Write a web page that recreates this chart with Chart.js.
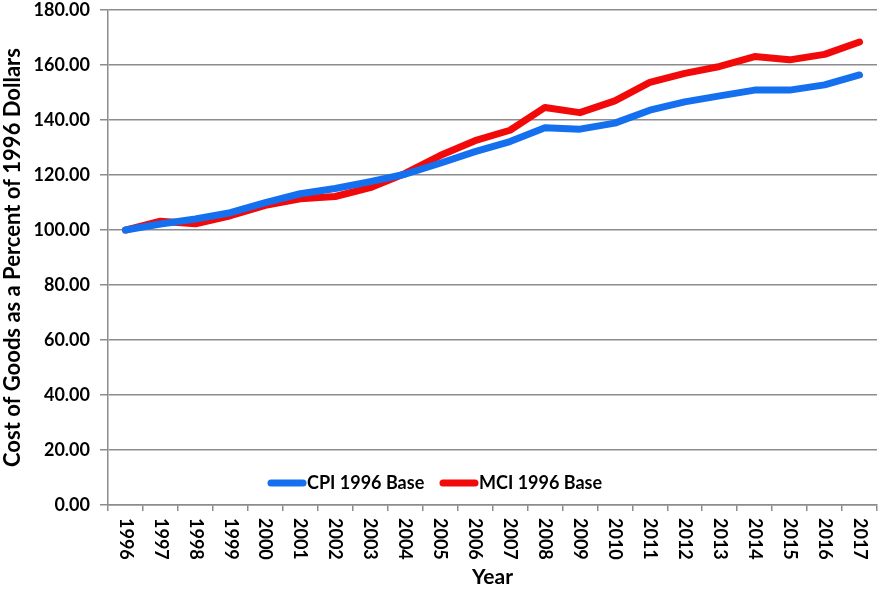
<!DOCTYPE html>
<html>
<head>
<meta charset="utf-8">
<script src="https://cdn.jsdelivr.net/npm/chart.js@4.4.1/dist/chart.umd.min.js"></script>
<style>
html,body{margin:0;padding:0;background:#fff;}
#wrap{width:882px;height:590px;position:relative;}
</style>
</head>
<body>
<div id="wrap"><canvas id="c" width="882" height="590"></canvas></div>
<script>
const years = ["1996","1997","1998","1999","2000","2001","2002","2003","2004","2005","2006","2007","2008","2009","2010","2011","2012","2013","2014","2015","2016","2017"];
const cpiValues = [100.0,102.2,104.0,106.3,110.0,113.2,115.1,117.6,120.3,124.3,128.5,132.2,137.2,136.7,138.9,143.6,146.6,148.8,150.9,150.9,152.8,156.4];
const mciValues = [100.0,103.2,102.3,105.2,109.0,111.4,112.2,115.4,120.6,127.1,132.5,136.3,144.6,142.7,147.0,153.7,157.0,159.5,163.1,161.9,163.9,168.4];
const yTicks = [0,20,40,60,80,100,120,140,160,180];

const FONT = "Lato, 'Open Sans', sans-serif";
const BLUE = "#1570f0";
const RED = "#f20a0a";
const GRID = "#8c8c8c";

const xLabelsPlugin = {
  id: 'xLabels',
  afterDraw(chart) {
    const ctx = chart.ctx;
    const xs = chart.scales.x;
    ctx.save();
    ctx.fillStyle = '#000';
    ctx.font = "bold 18px " + FONT;
    ctx.textAlign = 'left';
    ctx.textBaseline = 'middle';
    years.forEach((lab, i) => {
      const x = xs.getPixelForValue(i);
      ctx.save();
      ctx.translate(x, xs.top + 13);
      ctx.rotate(Math.PI / 2);
      ctx.fillText(lab, 0, 0);
      ctx.restore();
    });
    ctx.restore();
  }
};

const legendPlugin = {
  id: 'inLegend',
  afterDatasetsDraw(chart) {
    const ctx = chart.ctx;
    const items = chart.data.datasets;
    const starts = [268, 440];
    const y = 483;
    ctx.save();
    ctx.font = "bold 18px " + FONT;
    ctx.textBaseline = 'middle';
    ctx.textAlign = 'left';
    items.forEach((ds, i) => {
      const x0 = starts[i];
      ctx.strokeStyle = ds.borderColor;
      ctx.lineWidth = 7;
      ctx.lineCap = 'round';
      ctx.beginPath();
      ctx.moveTo(x0 + 3, y);
      ctx.lineTo(x0 + 35, y);
      ctx.stroke();
      ctx.fillStyle = '#000';
      ctx.fillText(ds.label, x0 + 39, y);
    });
    ctx.restore();
  }
};

new Chart(document.getElementById('c'), {
  type: 'line',
  data: {
    labels: years,
    datasets: [
      { label: 'CPI 1996 Base', data: cpiValues, borderColor: BLUE, backgroundColor: BLUE, borderWidth: 7, pointRadius: 0, tension: 0, borderCapStyle: 'round', borderJoinStyle: 'round' },
      { label: 'MCI 1996 Base', data: mciValues, borderColor: RED, backgroundColor: RED, borderWidth: 7, pointRadius: 0, tension: 0, borderCapStyle: 'round', borderJoinStyle: 'round' }
    ]
  },
  options: {
    responsive: false,
    animation: false,
    devicePixelRatio: 1,
    layout: { padding: { left: 0, right: 5, top: 0, bottom: 0 } },
    plugins: { legend: { display: false }, tooltip: { enabled: false } },
    scales: {
      x: {
        offset: true,
        grid: { offset: true, drawOnChartArea: false, drawTicks: true, tickLength: 6, color: GRID, lineWidth: 1.5 },
        border: { display: true, color: GRID, width: 1.5 },
        ticks: { display: false },
        title: { display: true, text: 'Year', color: '#000', font: { family: FONT, size: 21, weight: 'bold' }, padding: { top: 0, bottom: 0 } },
        afterFit(scale) { scale.height = 85; }
      },
      y: {
        min: 0, max: 180,
        afterBuildTicks(scale) { scale.ticks = yTicks.map(v => ({ value: v })); },
        ticks: {
          color: '#000', padding: 10,
          font: { family: FONT, size: 18, weight: 'bold', lineHeight: 0.01 },
          callback: v => Number(v).toFixed(2)
        },
        grid: { color: GRID, lineWidth: 1.5, tickLength: 8 },
        border: { display: true, color: GRID, width: 1.5 },
        title: { display: true, text: 'Cost of Goods as a Percent of 1996 Dollars', color: '#000', font: { family: FONT, size: 22, weight: 'bold' }, padding: { top: 0, bottom: 4 } },
        afterFit(scale) { scale.width = 108; }
      }
    }
  },
  plugins: [xLabelsPlugin, legendPlugin]
});
</script>
</body>
</html>
